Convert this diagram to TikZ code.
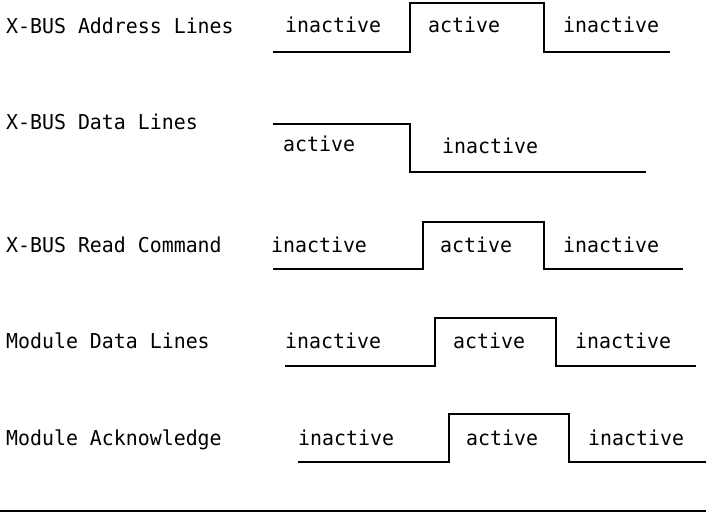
\documentclass[tikz,border=0pt]{standalone}
\usepackage{fontspec}
\setmonofont[FakeStretch=0.97]{DejaVu Sans Mono}
\begin{document}
\begin{tikzpicture}[x=1pt,y=-1pt,
  sig/.style={line width=1.5pt, line join=miter},
  lbl/.style={anchor=base west, inner sep=0pt, font=\ttfamily\fontsize{20.5}{24}\selectfont}]
\useasboundingbox (0,0) rectangle (706,513);

% signal names
\node[lbl] (addr) at (6,33.5)  {X-BUS Address Lines};
\node[lbl] (data) at (6,130)   {X-BUS Data Lines};
\node[lbl] (rd)   at (6,252)   {X-BUS Read Command};
\node[lbl] (mdat) at (6,348)   {Module Data Lines};
\node[lbl] (mack) at (6,445)   {Module Acknowledge};

% X-BUS address lines
\draw[sig] (273,52) -- (410,52) -- (410,3) -- (544,3) -- (544,52) -- (670,52);
\node[lbl] (a1) at (285,33) {inactive};
\node[lbl] (a2) at (428,33) {active};
\node[lbl] (a3) at (563,33) {inactive};

% X-BUS data lines
\draw[sig] (273,124) -- (410,124) -- (410,172) -- (646,172);
\node[lbl] (d1) at (283,152) {active};
\node[lbl] (d2) at (442,154) {inactive};

% X-BUS read command
\draw[sig] (273,269) -- (423,269) -- (423,222) -- (544,222) -- (544,269) -- (683,269);
\node[lbl] (r1) at (271,252) {inactive};
\node[lbl] (r2) at (440,252) {active};
\node[lbl] (r3) at (563,252) {inactive};

% module data lines
\draw[sig] (285,366) -- (435,366) -- (435,318) -- (556,318) -- (556,366) -- (696,366);
\node[lbl] (m1) at (285,348) {inactive};
\node[lbl] (m2) at (453,348) {active};
\node[lbl] (m3) at (575,348) {inactive};

% module acknowledge
\draw[sig] (298,462) -- (449,462) -- (449,414) -- (569,414) -- (569,462) -- (706,462);
\node[lbl] (k1) at (298,445) {inactive};
\node[lbl] (k2) at (466,445) {active};
\node[lbl] (k3) at (588,445) {inactive};

% closing rule
\draw[line width=2pt] (0,511) -- (706,511);
\end{tikzpicture}
\end{document}
